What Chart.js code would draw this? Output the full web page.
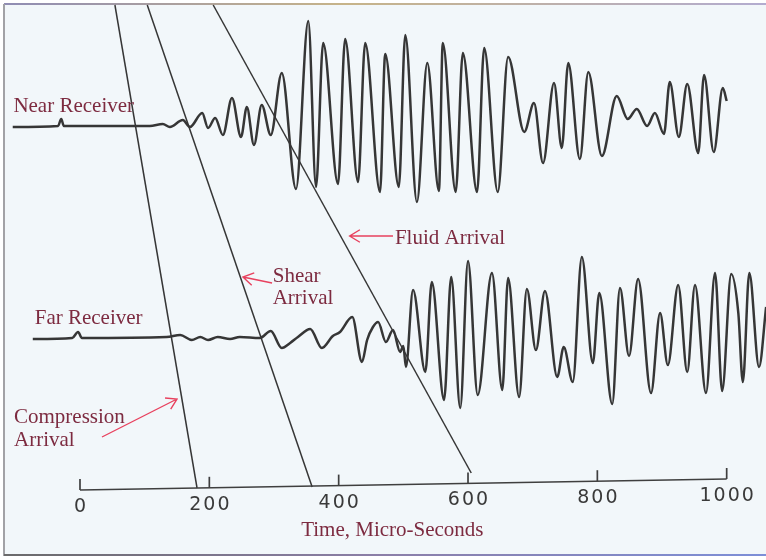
<!DOCTYPE html>
<html>
<head>
<meta charset="utf-8">
<script src="https://cdn.jsdelivr.net/npm/chart.js@4.4.1/dist/chart.umd.min.js"></script>
<style>
  html, body { margin: 0; padding: 0; background: #ffffff; }
  #wrap { width: 766px; height: 560px; }
</style>
</head>
<body>
<div id="wrap"><canvas id="c" width="766" height="560"></canvas></div>
<script>
// Near receiver waveform: turning points (time in micro-seconds, amplitude)
const nearTime = [-104, -34, -29, -25, 108, 128, 139, 159, 170, 189, 198, 209, 221, 235, 249, 258,
  269, 281, 295, 312, 334, 353, 365, 376, 399, 410, 430, 441, 464, 472, 493, 503, 521, 537, 555, 561,
  581, 592, 614, 625, 646, 662, 687, 702, 716, 733, 745, 755, 773, 786, 807, 830, 847, 861, 877, 889,
  903, 912, 926, 939, 956, 965, 980, 994, 1000];
const nearAmp = [-1, 0, 7, 0, 0, 2, -1, 6, -1, 13, -2, 8, -9, 28, -11, 19,
  -19, 21, -9, 53, -63, 105, -61, 83, -58, 87, -56, 83, -66, 72, -61, 91, -76, 63, -65, 83,
  -66, 73, -66, 78, -66, 69, -6, 23, -37, 43, -22, 63, -33, 54, -30, 30, 7, 17, 0, 13,
  -8, 44, -11, 42, -27, 51, -26, 38, 25];

// Far receiver waveform: turning points (time in micro-seconds, amplitude)
const farTime = [-73, -12, -3, 3, 134, 155, 173, 186, 198, 213, 232, 247, 278, 295, 312, 325,
  337, 356, 374, 391, 402, 421, 436, 444, 453, 461, 473, 484, 495, 500, 504, 515,
  534, 544, 563, 574, 588, 600, 615, 637, 653, 662, 679, 691, 705, 719, 738, 748,
  762, 776, 793, 803, 823, 835, 849, 863, 883, 897, 909, 925, 939, 951, 968, 982,
  993, 1007, 1018, 1025, 1035, 1050, 1061];
const farAmp = [-1, 0, 6, 0, 1, 3, -2, 1, -2, 1, -1, 1, 0, 7, -10, -5,
  1, 9, -10, 2, 6, 21, -24, -2, 11, 16, -4, 8, -14, -8, -29, 48,
  -34, 56, -62, 61, -70, 77, -57, 65, -52, 60, -59, 49, -12, 47, -39, -9,
  -44, 81, -25, 45, -66, 50, -18, 59, -55, 25, -27, 53, -34, 53, -55, 65,
  -53, 64, 25, -44, 65, -29, 31];

// Arrival moveout lines: time where each leaves the top edge and where it meets the time axis
const arrivalNames = ['Compression', 'Shear', 'Fluid'];
const arrivalTopTime = [54, 104, 206];
const arrivalAxisTime = [181, 359, 605];
const arrivalEndLevel = [72, 73, 87];

// Time axis
const tickValues = [0, 200, 400, 600, 800, 1000];
const tickLabels = ['0', '200', '400', '600', '800', '1000'];
const axisTitle = 'Time, Micro-Seconds';

// Vertical layout in value units
const NEAR_BASE = 434;
const FAR_BASE = 222;
const TOP_LEVEL = 555;
const AXIS_LEVEL_START = 70;
const AXIS_LEVEL_END = 81;
const axisLevel = t => AXIS_LEVEL_START + (AXIS_LEVEL_END - AXIS_LEVEL_START) * t / 1000;

const INK = '#363636';
const LABEL = '#7d2b40';
const ARROW = '#e8415e';

const traceSet = (times, amps, base) => ({
  data: times.map((t, i) => ({ x: t, y: base + amps[i] })),
  borderColor: INK,
  borderWidth: 2.5,
  cubicInterpolationMode: 'monotone',
  pointRadius: 0
});

const datasets = [
  traceSet(nearTime, nearAmp, NEAR_BASE),
  traceSet(farTime, farAmp, FAR_BASE),
  ...arrivalNames.map((name, i) => ({
    label: name,
    data: [{ x: arrivalTopTime[i], y: TOP_LEVEL }, { x: arrivalAxisTime[i], y: arrivalEndLevel[i] }],
    borderColor: INK,
    borderWidth: 1.5,
    tension: 0,
    pointRadius: 0
  }))
];

// Text labels and pointer arrows, placed in data units
const notes = [
  { text: 'Near Receiver', t: -103, y: 448 },
  { text: 'Far Receiver', t: -70, y: 236 },
  { text: 'Compression', t: -102, y: 137 },
  { text: 'Arrival', t: -102, y: 114 },
  { text: 'Shear', t: 298, y: 278 },
  { text: 'Arrival', t: 298, y: 256 },
  { text: 'Fluid Arrival', t: 487, y: 316 }
];
const arrows = [
  { from: [484, 324], to: [417, 324] },
  { from: [297, 277], to: [252, 283] },
  { from: [34, 123], to: [150, 161] }
];

// Paper background and scanned frame edges
const paper = {
  id: 'paper',
  beforeDraw(chart) {
    const { ctx, width, height } = chart;
    ctx.save();
    ctx.fillStyle = '#ffffff';
    ctx.fillRect(0, 0, width, height);
    ctx.fillStyle = '#f2f7fa';
    ctx.fillRect(4, 4, width - 4, height - 8);
    const gt = ctx.createLinearGradient(0, 0, width, 0);
    gt.addColorStop(0, '#8f8cb4');
    gt.addColorStop(0.45, '#c7b489');
    gt.addColorStop(1, '#b3acd0');
    ctx.fillStyle = gt;
    ctx.fillRect(4, 3, width - 4, 2);
    ctx.fillStyle = '#a2a2a6';
    ctx.fillRect(3, 4, 2, height - 8);
    const gb = ctx.createLinearGradient(0, 0, width, 0);
    gb.addColorStop(0, '#6a6a6a');
    gb.addColorStop(0.5, '#8c7fa8');
    gb.addColorStop(1, '#7d8fd8');
    ctx.fillStyle = gb;
    ctx.fillRect(4, height - 6, width - 4, 2);
    ctx.restore();
  }
};

// Time axis, tick marks, labels and annotations
const overlay = {
  id: 'overlay',
  afterDatasetsDraw(chart) {
    const { ctx } = chart;
    const xs = chart.scales.x, ys = chart.scales.y;
    const px = t => xs.getPixelForValue(t);
    const py = v => ys.getPixelForValue(v);
    ctx.save();

    // axis line
    ctx.strokeStyle = '#3f3f3f';
    ctx.lineWidth = 1.7;
    ctx.beginPath();
    ctx.moveTo(px(tickValues[0]), py(axisLevel(tickValues[0])));
    ctx.lineTo(px(tickValues[tickValues.length - 1]), py(axisLevel(tickValues[tickValues.length - 1])));
    ctx.stroke();

    // ticks and tick labels
    ctx.font = '19px "DejaVu Sans"';
    ctx.fillStyle = '#3a3a3a';
    ctx.textBaseline = 'middle';
    ctx.textAlign = 'left';
    ctx.letterSpacing = '2px';
    tickValues.forEach((v, i) => {
      const x = px(v), y = py(axisLevel(v));
      ctx.beginPath();
      ctx.moveTo(x, y);
      ctx.lineTo(x, y - 11);
      ctx.stroke();
      const w = ctx.measureText(tickLabels[i]).width - 2;
      ctx.fillText(tickLabels[i], x - w / 2, y + 17);
    });
    ctx.letterSpacing = '0px';

    // axis title
    ctx.font = '21px "Liberation Serif"';
    ctx.fillStyle = LABEL;
    ctx.textBaseline = 'alphabetic';
    ctx.textAlign = 'center';
    ctx.fillText(axisTitle, px(483), py(24));

    // receiver and arrival labels
    ctx.textAlign = 'left';
    notes.forEach(n => ctx.fillText(n.text, px(n.t), py(n.y)));

    // arrows
    ctx.strokeStyle = ARROW;
    ctx.lineWidth = 1.4;
    arrows.forEach(a => {
      const x0 = px(a.from[0]), y0 = py(a.from[1]);
      const x1 = px(a.to[0]), y1 = py(a.to[1]);
      const ang = Math.atan2(y1 - y0, x1 - x0);
      ctx.beginPath();
      ctx.moveTo(x0, y0);
      ctx.lineTo(x1, y1);
      const head = 12, spread = 0.55;
      ctx.moveTo(x1 - head * Math.cos(ang - spread), y1 - head * Math.sin(ang - spread));
      ctx.lineTo(x1, y1);
      ctx.lineTo(x1 - head * Math.cos(ang + spread), y1 - head * Math.sin(ang + spread));
      ctx.stroke();
    });
    ctx.restore();
  }
};

new Chart(document.getElementById('c'), {
  type: 'line',
  data: { datasets },
  options: {
    responsive: false,
    animation: false,
    devicePixelRatio: 1,
    layout: { padding: 0 },
    plugins: { legend: { display: false }, tooltip: { enabled: false } },
    scales: {
      x: { type: 'linear', min: -123.7, max: 1060.8, display: false },
      y: { type: 'linear', min: 0, max: 560, display: false }
    }
  },
  plugins: [paper, overlay]
});
</script>
</body>
</html>
